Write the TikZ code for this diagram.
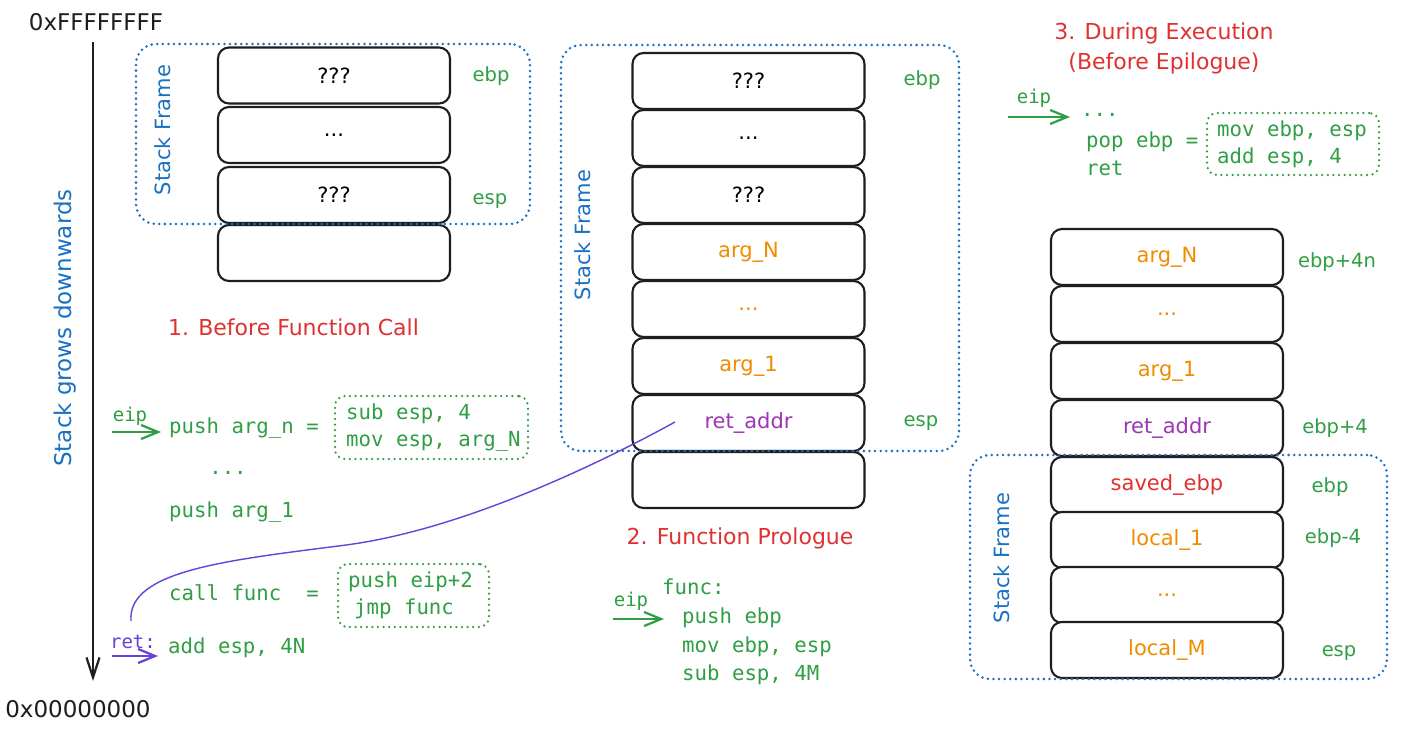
\documentclass[tikz,border=0pt]{standalone}
\usepackage{fontspec}
\setmainfont{DejaVu Sans}
\setmonofont{DejaVu Sans Mono}
\usetikzlibrary{arrows.meta}
\definecolor{ink}{HTML}{1E1E1E}
\definecolor{sfblue}{HTML}{1971C2}
\definecolor{cgreen}{HTML}{2F9E44}
\definecolor{tred}{HTML}{E03131}
\definecolor{torange}{HTML}{F08C00}
\definecolor{tpurple}{HTML}{9C36B5}
\definecolor{tviolet}{HTML}{6741D9}
\newcommand\fsz[2]{\fontsize{#1}{#2}\selectfont}
\begin{document}
\begin{tikzpicture}[x=1pt,y=-1pt,
  cellbox/.style={draw=ink, fill=white, line width=2.1pt, rounded corners=11pt,
    minimum width=232pt, minimum height=56pt, inner sep=0pt, font=\fsz{21}{25}},
  sframe/.style={draw=sfblue, line width=2.8pt, dash pattern=on 0pt off 5.6pt,
    line cap=round, rounded corners=20pt, inner sep=0pt},
  cbox/.style={draw=cgreen, line width=2.5pt, dash pattern=on 0pt off 5.6pt,
    line cap=round, rounded corners=10pt, inner sep=0pt},
  codetxt/.style={text=cgreen, font=\ttfamily\fsz{20.7}{27}, anchor=west, inner sep=0pt, align=left},
  reglab/.style={text=cgreen, font=\fsz{19.5}{23}, inner sep=0pt},
  ttl/.style={text=tred, font=\fsz{22}{30}, inner sep=0pt, align=center},
  sflabel/.style={text=sfblue, font=\fsz{21}{25}, rotate=90, inner sep=0pt},
  ptrlab/.style={font=\ttfamily\fsz{19}{23}, inner sep=0pt},
  ptrarrow/.style={line width=2.4pt, -{Straight Barb[length=17pt,width=14pt,line width=2.2pt]}},
  addr/.style={text=ink, font=\fsz{23}{27}, inner sep=0pt},
]
\fill[white] (0,0) rectangle (1412,731);
\useasboundingbox (0,0) rectangle (1412,731);

% ---------------- axis ----------------
\node[addr] (hi) at (96,22) {0xFFFFFFFF};
\node[addr] (lo) at (78,709) {0x00000000};
\coordinate (atop) at (93,42);
\coordinate (abot) at (93,681);
\draw[ink, line width=2.6pt, -{Straight Barb[length=20pt,width=13pt,line width=2.2pt]}] (atop) -- (abot);
\node[text=sfblue, font=\fsz{23}{27}, rotate=90, inner sep=0pt] (grow) at (65,328) {Stack grows downwards};

% ---------------- stage 1 ----------------
\node[cellbox] (a1) at (334,75.5) {???};
\node[cellbox] (a2) at (334,135) {...};
\node[cellbox] (a3) at (334,195) {???};
\node[cellbox] (a4) at (334,253) {};
\node[sframe, minimum width=394pt, minimum height=180pt] (f1) at (333,134) {};
\node[sflabel] (sf1) at (163,130) {Stack Frame};
\node[reglab] (ebp1) at (491,76) {ebp};
\node[reglab] (esp1) at (490,201) {esp};
\node[ttl] (t1) at (293.5,327) {1. Before Function Call};

\node[ptrlab, text=cgreen] (eip1) at (130,416) {eip};
\coordinate (e1s) at (112,432);
\coordinate (e1e) at (161,432);
\draw[ptrarrow, cgreen] (e1s) -- (e1e);
\node[codetxt] (c1) at (169,428) {push arg\_n =};
\node[codetxt, anchor=center] (c2) at (228,473) {...};
\node[codetxt] (c3) at (169,512) {push arg\_1};
\node[codetxt] (c4) at (169,593) {call func\ \ =};
\node[cbox, minimum width=193pt, minimum height=63pt] (cb1) at (431.5,427.5) {};
\node[codetxt] (cb1t) at (346,428) {sub esp, 4\\mov esp, arg\_N};
\node[cbox, minimum width=151pt, minimum height=63pt] (cb2) at (413.5,595.5) {};
\node[codetxt] (cb2t) at (348,595) {push eip+2\\\hspace*{6pt}jmp func};

\node[ptrlab, text=tviolet] (ret) at (133,642) {ret:};
\coordinate (r1s) at (112,656);
\coordinate (r1e) at (158,656);
\draw[ptrarrow, tviolet] (r1s) -- (r1e);
\node[codetxt] (c5) at (168,648) {add esp, 4N};

% ---------------- stage 2 ----------------
\node[cellbox] (b1) at (748.5,81) {???};
\node[cellbox] (b2) at (748.5,138) {...};
\node[cellbox] (b3) at (748.5,195) {???};
\node[cellbox, text=torange] (b4) at (748.5,252) {arg\_N};
\node[cellbox, text=torange] (b5) at (748.5,309) {...};
\node[cellbox, text=torange] (b6) at (748.5,366) {arg\_1};
\node[cellbox, text=tpurple] (b7) at (748.5,423) {ret\_addr};
\node[cellbox] (b8) at (748.5,480) {};
\node[sframe, minimum width=398pt, minimum height=406pt] (f2) at (760,248) {};
\node[sflabel] (sf2) at (583,235) {Stack Frame};
\node[reglab] (ebp2) at (922,80) {ebp};
\node[reglab] (esp2) at (921,423) {esp};
\node[ttl] (t2) at (740,538) {2. Function Prologue};

\node[ptrlab, text=cgreen] (eip2) at (631,601) {eip};
\coordinate (e2s) at (613,619);
\coordinate (e2e) at (664,619);
\draw[ptrarrow, cgreen] (e2s) -- (e2e);
\node[codetxt] (d1) at (662,587) {func:};
\node[codetxt] (d2) at (682,618) {push ebp};
\node[codetxt] (d3) at (682,647) {mov ebp, esp};
\node[codetxt] (d4) at (682,675) {sub esp, 4M};

% return address link
\coordinate (rs) at (131,621);
\coordinate (re) at (675,422);
\draw[tviolet, line width=1.4pt] (rs) .. controls (127,570) and (230,560) .. (346,545)
  .. controls (460,530) and (595,466) .. (re);

% ---------------- stage 3 ----------------
\node[ttl] (t3) at (1164,48) {3. During Execution\\(Before Epilogue)};
\node[ptrlab, text=cgreen] (eip3) at (1034,98) {eip};
\coordinate (e3s) at (1008,117);
\coordinate (e3e) at (1070,117);
\draw[ptrarrow, cgreen] (e3s) -- (e3e);
\node[codetxt] (g1) at (1081,115) {...};
\node[codetxt] (g2) at (1086,142) {pop ebp =};
\node[codetxt] (g3) at (1086,168) {ret};
\node[cbox, minimum width=172pt, minimum height=62pt] (cb3) at (1293,144) {};
\node[codetxt] (cb3t) at (1217,144) {mov ebp, esp\\add esp, 4};

\node[cellbox, text=torange] (k1) at (1167,257) {arg\_N};
\node[cellbox, text=torange] (k2) at (1167,314) {...};
\node[cellbox, text=torange] (k3) at (1167,371) {arg\_1};
\node[cellbox, text=tpurple] (k4) at (1167,428) {ret\_addr};
\node[cellbox, text=tred] (k5) at (1167,485) {saved\_ebp};
\node[cellbox, text=torange] (k6) at (1167,540) {local\_1};
\node[cellbox, text=torange] (k7) at (1167,595) {...};
\node[cellbox, text=torange] (k8) at (1167,650) {local\_M};
\node[sframe, minimum width=417pt, minimum height=224pt] (f3) at (1178.5,567) {};
\node[sflabel] (sf3) at (1002,558) {Stack Frame};
\node[reglab] (l1) at (1337,262) {ebp+4n};
\node[reglab] (l2) at (1335,428) {ebp+4};
\node[reglab] (l3) at (1330,487) {ebp};
\node[reglab] (l4) at (1333,538) {ebp-4};
\node[reglab] (l5) at (1339,653) {esp};
\end{tikzpicture}
\end{document}
